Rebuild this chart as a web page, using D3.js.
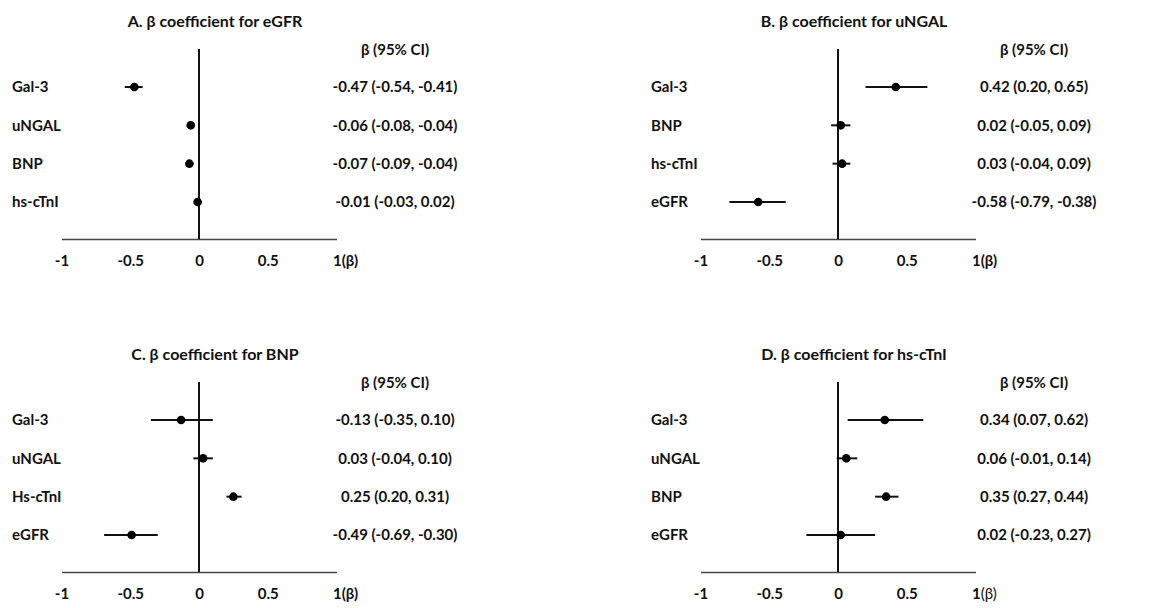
<!DOCTYPE html>
<html>
<head>
<meta charset="utf-8">
<script src="https://cdn.jsdelivr.net/npm/d3@7"></script>
<style>
  body { margin: 0; background: #fff; }
  text { font-family: Lato, "Open Sans", sans-serif; font-weight: bold; fill: #111; }
</style>
</head>
<body>
<div id="chart"></div>
<script>
// panel titles
const titles = [
  "A. β coefficient for eGFR",
  "B. β coefficient for uNGAL",
  "C. β coefficient for BNP",
  "D. β coefficient for hs-cTnI"
];

// row labels per panel
const labelsA = ["Gal-3", "uNGAL", "BNP", "hs-cTnI"];
const labelsB = ["Gal-3", "BNP", "hs-cTnI", "eGFR"];
const labelsC = ["Gal-3", "uNGAL", "Hs-cTnI", "eGFR"];
const labelsD = ["Gal-3", "uNGAL", "BNP", "eGFR"];

// beta, lower CI, upper CI
const betaA = [-0.47, -0.06, -0.07, -0.01];
const lowA = [-0.54, -0.08, -0.09, -0.03];
const highA = [-0.41, -0.04, -0.04, 0.02];

const betaB = [0.42, 0.02, 0.03, -0.58];
const lowB = [0.20, -0.05, -0.04, -0.79];
const highB = [0.65, 0.09, 0.09, -0.38];

const betaC = [-0.13, 0.03, 0.25, -0.49];
const lowC = [-0.35, -0.04, 0.20, -0.69];
const highC = [0.10, 0.10, 0.31, -0.30];

const betaD = [0.34, 0.06, 0.35, 0.02];
const lowD = [0.07, -0.01, 0.27, -0.23];
const highD = [0.62, 0.14, 0.44, 0.27];

const tickValues = [-1, -0.5, 0, 0.5, 1];
const tickLabels = ["-1", "-0.5", "0", "0.5", "1(β)"];

const W = 1168, H = 608;

const svg = d3.select("#chart")
  .append("svg")
  .attr("width", W)
  .attr("height", H);

// plain hyphen for negatives, like the original
const fmt = d3.formatLocale({
  decimal: ".", thousands: ",", grouping: [3], currency: ["", ""], minus: "-"
}).format(".2f");

const panels = [
  { title: titles[0], labels: labelsA, beta: betaA, low: lowA, high: highA, dx: 0, dy: 0 },
  { title: titles[1], labels: labelsB, beta: betaB, low: lowB, high: highB, dx: 639, dy: 0 },
  { title: titles[2], labels: labelsC, beta: betaC, low: lowC, high: highC, dx: 0, dy: 333 },
  { title: titles[3], labels: labelsD, beta: betaD, low: lowD, high: highD, dx: 639, dy: 333 }
];

panels.forEach((p, pi) => {
  const g = svg.append("g").attr("transform", `translate(${p.dx},${p.dy})`);

  const x = d3.scaleLinear().domain([-1, 1]).range([61.5, 336.5]);
  const y = d3.scalePoint().domain(p.labels).range([87, 202]);
  const axisY = 239;

  // title
  g.append("text")
    .attr("x", 215)
    .attr("y", 27)
    .attr("text-anchor", "middle")
    .attr("font-size", "16px")
    .text(p.title);

  // CI header
  g.append("text")
    .attr("x", 395)
    .attr("y", 55)
    .attr("text-anchor", "middle")
    .attr("font-size", "15px")
    .text("β (95% CI)");

  // x axis
  const axis = g.append("g")
    .attr("transform", `translate(0,${axisY})`)
    .call(d3.axisBottom(x)
      .tickValues(tickValues)
      .tickSize(0)
      .tickPadding(16)
      .tickFormat((d, i) => tickLabels[i]));
  axis.select(".domain").attr("stroke", "#444").attr("stroke-width", 1.5);
  axis.selectAll(".tick text")
    .attr("font-size", "15px")
    .attr("font-family", "Lato, sans-serif")
    .attr("font-weight", "bold")
    .attr("fill", "#111");
  // last label: "1" sits on the tick, "(β)" hangs to the right
  const last = axis.selectAll(".tick text").filter((d, i) => i === tickValues.length - 1);
  last.attr("text-anchor", "start").attr("x", -4);
  if (pi === 3) {
    last.text("1");
    last.append("tspan").attr("font-weight", "normal").text("(β)");
  }

  // zero line
  g.append("line")
    .attr("x1", x(0)).attr("x2", x(0))
    .attr("y1", 49).attr("y2", axisY)
    .attr("stroke", "#111")
    .attr("stroke-width", 2);

  const rows = p.labels.map((l, i) => ({ label: l, b: p.beta[i], lo: p.low[i], hi: p.high[i] }));

  // row labels
  g.selectAll(".rowlabel")
    .data(rows)
    .join("text")
    .attr("class", "rowlabel")
    .attr("x", 12)
    .attr("y", d => y(d.label))
    .attr("dy", "0.35em")
    .attr("font-size", "15px")
    .text(d => d.label);

  // CI lines
  g.selectAll(".ci")
    .data(rows)
    .join("line")
    .attr("class", "ci")
    .attr("x1", d => x(d.lo))
    .attr("x2", d => x(d.hi))
    .attr("y1", d => y(d.label))
    .attr("y2", d => y(d.label))
    .attr("stroke", "#111")
    .attr("stroke-width", 2);

  // points
  g.selectAll(".pt")
    .data(rows)
    .join("circle")
    .attr("class", "pt")
    .attr("cx", d => x(d.b))
    .attr("cy", d => y(d.label))
    .attr("r", 4.3)
    .attr("fill", "#000");

  // CI text
  g.selectAll(".citext")
    .data(rows)
    .join("text")
    .attr("class", "citext")
    .attr("x", 395)
    .attr("y", d => y(d.label))
    .attr("dy", "0.35em")
    .attr("text-anchor", "middle")
    .attr("font-size", "15px")
    .text(d => `${fmt(d.b)} (${fmt(d.lo)}, ${fmt(d.hi)})`);
});
</script>
</body>
</html>
